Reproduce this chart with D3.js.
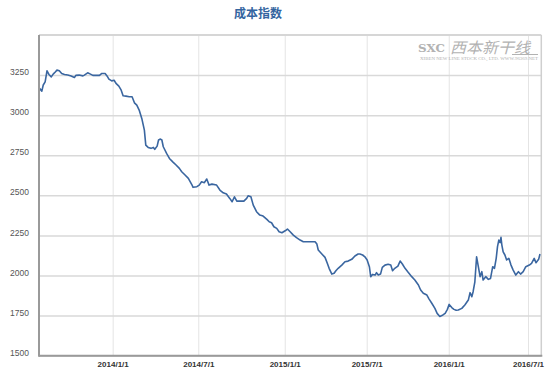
<!DOCTYPE html>
<html><head><meta charset="utf-8">
<script src="https://cdn.jsdelivr.net/npm/d3@7"></script>
<style>
html,body{margin:0;padding:0;background:#fff;}
svg{display:block;}
</style></head>
<body>
<svg id="chart" width="559" height="381"></svg>
<script>
const title = "成本指数";
const dates = [
"2013-07-30","2013-08-04","2013-08-07","2013-08-11","2013-08-15","2013-08-19","2013-08-24","2013-08-28","2013-09-02","2013-09-05",
"2013-09-10","2013-09-15","2013-09-21","2013-09-28","2013-10-05","2013-10-12","2013-10-15","2013-10-22","2013-10-30","2013-11-02",
"2013-11-09","2013-11-15","2013-11-20","2013-11-27","2013-12-04","2013-12-09","2013-12-16","2013-12-20","2013-12-24","2013-12-30",
"2014-01-04","2014-01-08","2014-01-14","2014-01-19","2014-01-23","2014-01-29","2014-02-05","2014-02-11","2014-02-16","2014-02-21",
"2014-02-26","2014-03-04","2014-03-09","2014-03-12","2014-03-17","2014-03-23","2014-03-28","2014-03-31","2014-04-05","2014-04-08",
"2014-04-12","2014-04-15","2014-04-18","2014-04-25","2014-05-01","2014-05-08","2014-05-15","2014-05-22","2014-05-27","2014-06-03",
"2014-06-10","2014-06-17","2014-06-20","2014-06-28","2014-07-03","2014-07-08","2014-07-14","2014-07-19","2014-07-24","2014-07-30",
"2014-08-09","2014-08-16","2014-08-23","2014-08-30","2014-09-06","2014-09-11","2014-09-16","2014-09-21","2014-09-28","2014-10-06",
"2014-10-12","2014-10-15","2014-10-21","2014-10-26","2014-11-02","2014-11-09","2014-11-16","2014-11-24","2014-11-29","2014-12-04",
"2014-12-09","2014-12-15","2014-12-20","2014-12-26","2015-01-02","2015-01-07","2015-01-13","2015-01-20","2015-01-27","2015-02-04",
"2015-02-11","2015-02-26","2015-03-09","2015-03-13","2015-03-16","2015-03-24","2015-03-31","2015-04-05","2015-04-09","2015-04-15",
"2015-04-20","2015-04-24","2015-04-29","2015-05-07","2015-05-14","2015-05-21","2015-05-29","2015-06-05","2015-06-12","2015-06-16",
"2015-06-22","2015-06-27","2015-07-02","2015-07-07","2015-07-10","2015-07-14","2015-07-20","2015-07-23","2015-07-27","2015-08-01",
"2015-08-05","2015-08-11","2015-08-18","2015-08-24","2015-08-28","2015-09-02","2015-09-09","2015-09-14","2015-09-19","2015-09-25",
"2015-10-02","2015-10-10","2015-10-17","2015-10-25","2015-10-30","2015-11-05","2015-11-13","2015-11-18","2015-11-24","2015-12-01",
"2015-12-06","2015-12-12","2015-12-19","2015-12-24","2015-12-29","2016-01-02","2016-01-08","2016-01-13","2016-01-18","2016-01-23",
"2016-01-31","2016-02-07","2016-02-15","2016-02-19","2016-02-23","2016-02-26","2016-03-01","2016-03-05","2016-03-09","2016-03-13",
"2016-03-17","2016-03-20","2016-03-26","2016-04-01","2016-04-06","2016-04-11","2016-04-15","2016-04-19","2016-04-22","2016-04-25",
"2016-04-28","2016-04-30","2016-05-02","2016-05-05","2016-05-09","2016-05-13","2016-05-18","2016-05-23","2016-05-28","2016-06-03",
"2016-06-09","2016-06-14","2016-06-20","2016-06-26","2016-07-04","2016-07-09","2016-07-15","2016-07-19","2016-07-25","2016-07-28"
];
const values = [
3167,3150,3188,3208,3277,3254,3239,3256,3271,3281,
3277,3260,3254,3250,3244,3235,3248,3250,3245,3250,
3264,3256,3248,3248,3248,3260,3260,3245,3225,3214,
3218,3198,3181,3156,3121,3119,3115,3115,3077,3063,
3032,2974,2907,2813,2799,2793,2799,2787,2807,2845,
2851,2845,2803,2762,2730,2709,2689,2668,2647,2627,
2606,2569,2550,2554,2564,2585,2579,2602,2564,2570,
2564,2533,2516,2508,2481,2460,2491,2464,2464,2464,
2481,2497,2491,2439,2398,2377,2371,2350,2335,2329,
2304,2294,2273,2267,2279,2290,2273,2252,2236,2221,
2211,2211,2211,2196,2159,2134,2113,2076,2045,2009,
2014,2030,2045,2065,2086,2090,2101,2122,2134,2134,
2128,2117,2097,2055,1993,2007,2003,2018,2003,2009,
2051,2065,2070,2065,2030,2045,2059,2090,2072,2045,
2020,1993,1972,1941,1910,1889,1878,1853,1827,1795,
1764,1745,1754,1764,1789,1820,1800,1789,1783,1785,
1795,1816,1847,1893,1868,1899,1961,2117,2055,1993,
2024,1972,1993,1976,1982,2055,2045,2107,2180,2221,
2205,2238,2190,2148,2128,2097,2107,2065,2034,2003,
2024,2009,2024,2055,2065,2076,2107,2080,2101,2134
];
const yTicks = [1500,1750,2000,2250,2500,2750,3000,3250];
const yDomain = [1500,3500];
const xTickDates = ["2014-01-01","2014-07-01","2015-01-01","2015-07-01","2016-01-01","2016-07-01"];
const xTickLabels = ["2014/1/1","2014/7/1","2015/1/1","2015/7/1","2016/1/1","2016/7/1"];
const xDomainStart = "2013-07-29", xDomainEnd = "2016-07-31";

// layout
const L = 39, R = 541.3, T = 35, B = 355.7, W = R - L;
// the reference axis is not perfectly linear in time; anchor fractions of width
const anchorFrac = [0, 0.1467, 0.3171, 0.4892, 0.6524, 0.8157, 0.9735, 1];

const parse = d3.timeParse("%Y-%m-%d");
const data = dates.map((d,i)=>({date: parse(d), value: values[i]}));
const tickDates = xTickDates.map(parse);

const x = d3.scaleTime()
  .domain([parse(xDomainStart), ...tickDates, parse(xDomainEnd)])
  .range(anchorFrac.map(f => L + f*W));
const y = d3.scaleLinear().domain(yDomain).range([B, T]);

const svg = d3.select("#chart");

// title
svg.append("text").attr("x", 258).attr("y", 18).attr("text-anchor","middle")
  .attr("font-family","'Noto Sans CJK SC', sans-serif").attr("font-size",12).attr("font-weight","bold")
  .attr("fill","#3465a0").text(title);

// vertical gridlines
svg.append("g").attr("transform",`translate(0,${T})`)
  .call(d3.axisBottom(x).tickValues(tickDates).tickSize(B-T).tickFormat(""))
  .call(g=>g.select(".domain").remove())
  .call(g=>g.selectAll("line").attr("stroke","#e4e4e4").attr("stroke-width",1));

// horizontal gridlines + y labels
svg.append("g").attr("transform",`translate(${L},0)`)
  .call(d3.axisLeft(y).tickValues(yTicks).tickSize(-W).tickPadding(10).tickFormat(d3.format("d")))
  .call(g=>g.select(".domain").remove())
  .call(g=>g.selectAll("line").attr("stroke","#d9d9d9").attr("stroke-width",1.5))
  .call(g=>g.selectAll("text").attr("font-family","'Liberation Sans', Arial, sans-serif")
     .attr("font-size",8.5).attr("fill","#555").attr("dy","-0.05em"));

// top & right borders
svg.append("line").attr("x1",L).attr("x2",R).attr("y1",T).attr("y2",T).attr("stroke","#d6d6d6").attr("stroke-width",2);
svg.append("line").attr("x1",R).attr("x2",R).attr("y1",T).attr("y2",B).attr("stroke","#cfcfcf").attr("stroke-width",1.5);

// watermark logo
const wm = svg.append("g").attr("fill","#b2b2b2");
wm.append("text").attr("x",418).attr("y",52).attr("font-family","'DejaVu Serif', serif").attr("font-weight","bold")
  .attr("font-size",11).attr("textLength",27).attr("lengthAdjust","spacingAndGlyphs").text("SXC");
wm.append("text").attr("x",450).attr("y",53).attr("font-family","'Noto Sans CJK SC', sans-serif")
  .attr("font-size",15).attr("font-style","italic").attr("textLength",80).attr("lengthAdjust","spacingAndGlyphs").text("西本新干线");
wm.append("line").attr("x1",512).attr("x2",538).attr("y1",54.5).attr("y2",54.5).attr("stroke","#b2b2b2").attr("stroke-width",1);
wm.append("text").attr("x",420).attr("y",59.5).attr("font-family","'Liberation Serif', serif")
  .attr("font-size",3.5).attr("textLength",118).attr("lengthAdjust","spacingAndGlyphs")
  .text("XIBEN NEW LINE STOCK CO., LTD.          WWW.96369.NET");

// line
svg.append("path").datum(data)
  .attr("fill","none").attr("stroke","#3a66a0").attr("stroke-width",1.6).attr("stroke-linejoin","round")
  .attr("d", d3.line().x(d=>x(d.date)).y(d=>y(d.value)));

// axes lines (left & bottom)
svg.append("line").attr("x1",L).attr("x2",L).attr("y1",T).attr("y2",B+1).attr("stroke","#9a9a9a").attr("stroke-width",2);
svg.append("line").attr("x1",L).attr("x2",R+1).attr("y1",B).attr("y2",B).attr("stroke","#9a9a9a").attr("stroke-width",2);

// x labels
svg.append("g").attr("transform",`translate(0,${B})`)
  .call(d3.axisBottom(x).tickValues(tickDates).tickSize(0).tickPadding(6).tickFormat((d,i)=>xTickLabels[i]))
  .call(g=>g.select(".domain").remove())
  .call(g=>g.selectAll("text").attr("font-family","'Liberation Sans', Arial, sans-serif")
     .attr("font-size",8).attr("font-weight","bold").attr("fill","#333"));
</script>
</body></html>
